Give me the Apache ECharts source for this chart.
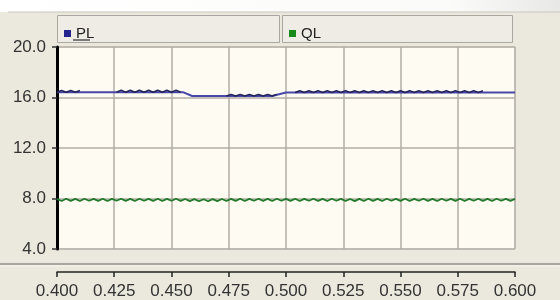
<!DOCTYPE html>
<html>
<head>
<meta charset="utf-8">
<script src="https://cdn.jsdelivr.net/npm/echarts@6/dist/echarts.min.js"></script>
<style>
  html, body { margin: 0; padding: 0; background: #ebe8de; }
  #chart { width: 560px; height: 300px; }
</style>
</head>
<body>
<div id="chart"></div>
<script>
// sample grid: 0.400 .. 0.600 s, step 0.002
const t0 = 0.4
const dt = 0.002
const xTicks = ['0.400', '0.425', '0.450', '0.475', '0.500', '0.525', '0.550', '0.575', '0.600']
const yTicks = ['4.0', '8.0', '12.0', '16.0', '20.0']

// PL main trace (time, value)
const plBase = [
  [0.400, 16.42], [0.455, 16.42], [0.459, 16.12], [0.494, 16.12], [0.500, 16.4], [0.600, 16.4],
]

// PL ripple overlay, one value per sample (null = no ripple)
const plRipple = [
  16.42, 16.56, 16.42, 16.56, 16.42, 16.56,
  null, null, null, null, null, null, null,
  16.42, 16.57, 16.42, 16.57, 16.42, 16.57, 16.42, 16.57, 16.42, 16.57, 16.42, 16.57, 16.42, 16.57, 16.42,
  null, null, null, null, null, null, null, null, null,
  16.12, 16.25, 16.12, 16.25, 16.12, 16.25, 16.12, 16.25, 16.12, 16.25, 16.12, 16.25,
  null, null, null,
  16.4, 16.54, 16.4, 16.54, 16.4, 16.54, 16.4, 16.54, 16.4, 16.54, 16.4, 16.54, 16.4, 16.54,
  16.4, 16.54, 16.4, 16.54, 16.4, 16.54, 16.4, 16.54, 16.4, 16.54, 16.4, 16.54, 16.4, 16.54,
  16.4, 16.53, 16.4, 16.53, 16.4, 16.53, 16.4, 16.53, 16.4, 16.53, 16.4, 16.53, 16.4, 16.53,
  null, null, null, null, null, null, null,
]

// QL trace, one value per sample
const qlValues = [
  7.97, 7.8, 7.98, 7.81, 7.97, 7.8, 7.98, 7.82, 7.97, 7.81, 7.98, 7.8, 7.97, 7.82, 7.98, 7.81, 7.97,
  7.8, 7.98, 7.82, 7.97, 7.81, 7.98, 7.8, 7.97, 7.82, 7.98, 7.81, 7.96, 7.79, 7.95, 7.78, 7.94, 7.78,
  7.95, 7.79, 7.96, 7.8, 7.97, 7.81, 7.98, 7.8, 7.97, 7.82, 7.98, 7.81, 7.97, 7.8, 7.98, 7.82, 7.97,
  7.81, 7.98, 7.8, 7.97, 7.82, 7.98, 7.81, 7.97, 7.8, 7.98, 7.82, 7.97, 7.8, 7.96, 7.79, 7.97, 7.8,
  7.98, 7.81, 7.97, 7.8, 7.98, 7.82, 7.97, 7.81, 7.98, 7.8, 7.97, 7.82, 7.98, 7.81, 7.97, 7.8, 7.98,
  7.82, 7.97, 7.81, 7.98, 7.8, 7.97, 7.82, 7.98, 7.81, 7.97, 7.8, 7.98, 7.82, 7.97, 7.81, 7.97,
]

const toPairs = (vals) => vals.map((v, i) => [+(t0 + i * dt).toFixed(3), v])

const FONT = '"Liberation Sans Narrow", "Liberation Sans", Arial, sans-serif'
const GRID_COLOR = '#b2aea6'

const chart = echarts.init(document.getElementById('chart'))

const option = {
  backgroundColor: '#ebe8de',
  animation: false,
  graphic: [
    // faded top strip
    {
      type: 'rect', shape: { x: 0, y: 0, width: 560, height: 12 }, silent: true,
      style: { fill: new echarts.graphic.LinearGradient(0, 0, 1, 0, [
        { offset: 0, color: '#ffffff' }, { offset: 0.8, color: '#fbfbfa' }, { offset: 1, color: '#e8e8e6' },
      ]) },
    },
    { type: 'line', shape: { x1: 8, y1: 12, x2: 560, y2: 12 }, style: { stroke: '#c8c6be', lineWidth: 1 }, silent: true },
    // legend boxes
    { type: 'rect', z: -1, shape: { x: 57.5, y: 15.5, width: 222, height: 27 }, style: { fill: '#eeece4', stroke: '#a9a7a0', lineWidth: 1 }, silent: true },
    { type: 'rect', z: -1, shape: { x: 282.5, y: 15.5, width: 230, height: 27 }, style: { fill: '#eeece4', stroke: '#a9a7a0', lineWidth: 1 }, silent: true },
    { type: 'line', shape: { x1: 73, y1: 40, x2: 90, y2: 40 }, style: { stroke: '#555', lineWidth: 1.5 }, silent: true },
    // separator above time axis
    { type: 'line', shape: { x1: 0, y1: 264, x2: 560, y2: 264 }, style: { stroke: '#a8a69e', lineWidth: 2 }, silent: true },
    { type: 'line', shape: { x1: 0, y1: 266, x2: 560, y2: 266 }, style: { stroke: '#f6f5f0', lineWidth: 1 }, silent: true },
  ],
  legend: [
    {
      data: ['PL'], left: 59, top: 21, icon: 'rect', itemWidth: 7, itemHeight: 7, itemGap: 6, z: 5,
      textStyle: { fontFamily: FONT, fontSize: 15, color: '#222' },
    },
    {
      data: ['QL'], left: 284, top: 21, icon: 'rect', itemWidth: 7, itemHeight: 7, itemGap: 6, z: 5,
      textStyle: { fontFamily: FONT, fontSize: 15, color: '#222' },
    },
  ],
  grid: [
    { left: 57, top: 47, width: 458, height: 202, show: true, backgroundColor: '#fdfbf2', borderColor: '#d6d3ca', borderWidth: 1 },
    { left: 57, top: 272, width: 458, height: 0 },
  ],
  xAxis: [
    {
      gridIndex: 0, type: 'value', min: 0.4, max: 0.6, interval: 0.025,
      axisLine: { show: false }, axisTick: { show: false }, axisLabel: { show: false },
      splitLine: { show: true, lineStyle: { color: GRID_COLOR, width: 1.5 } },
    },
    {
      gridIndex: 1, type: 'value', min: 0.4, max: 0.6, interval: 0.025, position: 'bottom',
      axisLine: { show: true, lineStyle: { color: '#222', width: 1.5 } },
      axisTick: { show: true, length: 5, lineStyle: { color: '#222', width: 1.5 } },
      axisLabel: {
        margin: 11, fontFamily: FONT, fontSize: 17, color: '#333',
        formatter: (v) => xTicks.find((s) => Math.abs(+s - v) < 1e-6) || '',
      },
      splitLine: { show: false },
    },
  ],
  yAxis: [
    {
      gridIndex: 0, type: 'value', min: 4, max: 20, interval: 4,
      axisLine: { show: true, lineStyle: { color: '#000', width: 3 } },
      axisTick: { show: true, length: 5, lineStyle: { color: '#333', width: 1.5 } },
      axisLabel: {
        margin: 11, fontFamily: FONT, fontSize: 17, color: '#333',
        formatter: (v) => yTicks.find((s) => Math.abs(+s - v) < 1e-6) || '',
      },
      splitLine: { show: true, lineStyle: { color: GRID_COLOR, width: 1.5 } },
    },
    {
      gridIndex: 1, type: 'value', min: 0, max: 1, show: false,
    },
  ],
  series: [
    {
      name: 'PL', type: 'line', data: plBase, symbol: 'none', color: '#24248e',
      lineStyle: { width: 2, color: '#4848a8' },
    },
    {
      name: 'PL', type: 'line', data: toPairs(plRipple), symbol: 'none', color: '#24248e',
      connectNulls: false, lineStyle: { width: 1.5, color: '#22225a' },
    },
    {
      name: 'QL', type: 'line', data: toPairs(qlValues), symbol: 'none', color: '#1a8a1a',
      lineStyle: { width: 1.8, color: '#237a2c' },
    },
  ],
}

chart.setOption(option)
</script>
</body>
</html>
